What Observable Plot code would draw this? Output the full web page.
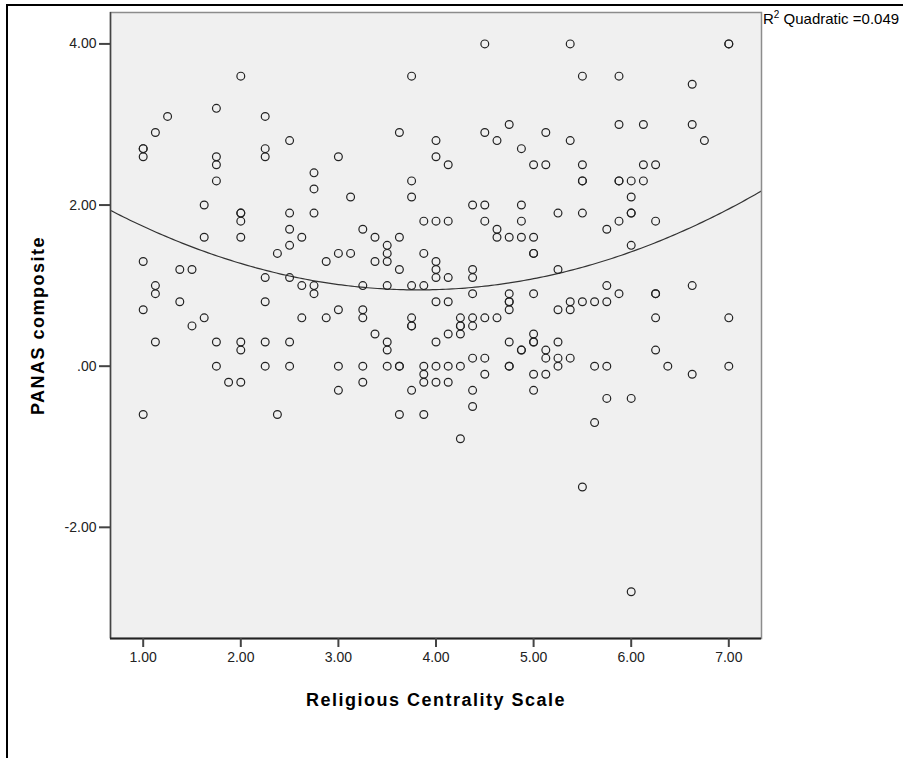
<!DOCTYPE html>
<html>
<head>
<meta charset="utf-8">
<script src="https://cdn.jsdelivr.net/npm/d3@7"></script>
<script src="https://cdn.jsdelivr.net/npm/@observablehq/plot@0.6"></script>
<style>
  body { margin: 0; background: #fff; width: 903px; height: 758px; position: relative; overflow: hidden;
         font-family: "Liberation Sans", Arial, sans-serif; }
  #border { position: absolute; left: 6px; top: 4px; width: 920px; height: 800px;
            border-top: 2px solid #000; border-left: 2px solid #000; }
  #chart { position: absolute; left: 0; top: 0; }
  #r2 { position: absolute; left: 763px; top: 10px; font-size: 15px; color: #000; white-space: nowrap; }
  #r2 sup { font-size: 10px; vertical-align: 6px; line-height: 0; }
  g[aria-label="x-axis label"] text, g[aria-label="y-axis label"] text { letter-spacing: 1.5px; }
</style>
</head>
<body>
<div id="border"></div>
<div id="chart"></div>
<div id="r2">R<sup>2</sup> Quadratic =0.049</div>
<script>
// ---- data (Religious Centrality Scale vs PANAS composite) ----
const religiousCentrality = [
  1, 1, 1, 1, 1, 1,
  1.125, 1.125, 1.125, 1.125,
  1.25,
  1.375, 1.375,
  1.5, 1.5,
  1.625, 1.625, 1.625,
  1.75, 1.75, 1.75, 1.75, 1.75, 1.75,
  1.875,
  2, 2, 2, 2, 2, 2, 2, 2,
  2.25, 2.25, 2.25, 2.25, 2.25, 2.25, 2.25,
  2.375, 2.375,
  2.5, 2.5, 2.5, 2.5, 2.5, 2.5, 2.5,
  2.625, 2.625, 2.625,
  2.75, 2.75, 2.75, 2.75, 2.75,
  2.875, 2.875,
  3, 3, 3, 3, 3,
  3.125, 3.125,
  3.25, 3.25, 3.25, 3.25, 3.25, 3.25,
  3.375, 3.375, 3.375,
  3.5, 3.5, 3.5, 3.5, 3.5, 3.5, 3.5,
  3.625, 3.625, 3.625, 3.625, 3.625, 3.625,
  3.75, 3.75, 3.75, 3.75, 3.75, 3.75, 3.75, 3.75,
  3.875, 3.875, 3.875, 3.875, 3.875, 3.875, 3.875,
  4, 4, 4, 4, 4, 4, 4, 4, 4, 4,
  4.125, 4.125, 4.125, 4.125, 4.125, 4.125, 4.125,
  4.25, 4.25, 4.25, 4.25, 4.25, 4.25,
  4.375, 4.375, 4.375, 4.375, 4.375, 4.375, 4.375, 4.375, 4.375,
  4.5, 4.5, 4.5, 4.5, 4.5, 4.5, 4.5,
  4.625, 4.625, 4.625, 4.625,
  4.75, 4.75, 4.75, 4.75, 4.75, 4.75, 4.75, 4.75, 4.75,
  4.875, 4.875, 4.875, 4.875, 4.875, 4.875,
  5, 5, 5, 5, 5, 5, 5, 5, 5, 5,
  5.125, 5.125, 5.125, 5.125, 5.125,
  5.25, 5.25, 5.25, 5.25, 5.25, 5.25,
  5.375, 5.375, 5.375, 5.375, 5.375,
  5.5, 5.5, 5.5, 5.5, 5.5, 5.5, 5.5,
  5.625, 5.625, 5.625,
  5.75, 5.75, 5.75, 5.75, 5.75,
  5.875, 5.875, 5.875, 5.875, 5.875, 5.875,
  6, 6, 6, 6, 6, 6, 6,
  6.125, 6.125, 6.125,
  6.25, 6.25, 6.25, 6.25, 6.25, 6.25,
  6.375,
  6.625, 6.625, 6.625, 6.625,
  6.75,
  7, 7, 7, 7
];
const panasComposite = [
  2.7, 2.6, 1.3, 0.7, -0.6, 2.7,
  2.9, 1.0, 0.9, 0.3,
  3.1,
  1.2, 0.8,
  1.2, 0.5,
  2.0, 1.6, 0.6,
  3.2, 2.6, 2.5, 2.3, 0.3, 0.0,
  -0.2,
  3.6, 1.9, 1.9, 1.8, 1.6, 0.3, 0.2, -0.2,
  3.1, 2.7, 2.6, 1.1, 0.8, 0.3, 0.0,
  1.4, -0.6,
  2.8, 1.9, 1.7, 1.5, 1.1, 0.3, 0.0,
  1.6, 1.0, 0.6,
  2.4, 2.2, 1.9, 1.0, 0.9,
  1.3, 0.6,
  2.6, 1.4, 0.7, 0.0, -0.3,
  2.1, 1.4,
  1.7, 1.0, 0.7, 0.6, 0.0, -0.2,
  1.6, 1.3, 0.4,
  1.5, 1.4, 1.3, 1.0, 0.3, 0.2, 0.0,
  2.9, 1.6, 1.2, 0.0, 0.0, -0.6,
  3.6, 2.3, 2.1, 1.0, 0.6, 0.5, 0.5, -0.3,
  1.8, 1.4, 1.0, 0.0, -0.1, -0.2, -0.6,
  2.8, 2.6, 1.8, 1.3, 1.2, 1.1, 0.8, 0.3, 0.0, -0.2,
  2.5, 1.8, 1.1, 0.8, 0.4, 0.0, -0.2,
  0.6, 0.5, 0.5, 0.4, 0.0, -0.9,
  2.0, 1.2, 1.1, 0.9, 0.6, 0.5, 0.1, -0.3, -0.5,
  4.0, 2.9, 2.0, 1.8, 0.6, 0.1, -0.1,
  2.8, 1.7, 1.6, 0.6,
  3.0, 1.6, 0.9, 0.8, 0.8, 0.7, 0.3, 0.0, 0.0,
  2.7, 2.0, 1.8, 1.6, 0.2, 0.2,
  2.5, 1.6, 1.4, 1.4, 0.9, 0.4, 0.3, 0.3, -0.1, -0.3,
  2.9, 2.5, 0.2, 0.1, -0.1,
  1.9, 1.2, 0.7, 0.3, 0.1, 0.0,
  4.0, 2.8, 0.8, 0.7, 0.1,
  3.6, 2.5, 2.3, 2.3, 1.9, 0.8, -1.5,
  0.8, 0.0, -0.7,
  1.7, 1.0, 0.8, 0.0, -0.4,
  3.6, 3.0, 2.3, 2.3, 1.8, 0.9,
  2.3, 2.1, 1.9, 1.9, 1.5, -0.4, -2.8,
  3.0, 2.5, 2.3,
  2.5, 1.8, 0.9, 0.9, 0.6, 0.2,
  0.0,
  3.5, 3.0, 1.0, -0.1,
  2.8,
  4.0, 4.0, 0.6, 0.0
];
const xTicks = [1, 2, 3, 4, 5, 6, 7];
const xTickLabels = ["1.00", "2.00", "3.00", "4.00", "5.00", "6.00", "7.00"];
const yTicks = [-2, 0, 2, 4];
const yTickLabels = ["-2.00", ".00", "2.00", "4.00"];
const xDomain = [0.665, 7.335];
const yDomain = [-3.38, 4.39];
const xTitle = "Religious Centrality Scale";
const yTitle = "PANAS composite";

// table built from the arrays
const points = religiousCentrality.map((x, i) => ({x, y: panasComposite[i]}));

// least-squares quadratic fit y = a + b x + c x^2 (as the chart's fit line)
function quadFit(xs, ys) {
  const S = [0, 0, 0, 0, 0], T = [0, 0, 0];
  xs.forEach((x, i) => {
    let p = 1;
    for (let k = 0; k < 5; k++) { S[k] += p; if (k < 3) T[k] += p * ys[i]; p *= x; }
  });
  const M = [[S[0], S[1], S[2], T[0]], [S[1], S[2], S[3], T[1]], [S[2], S[3], S[4], T[2]]];
  for (let i = 0; i < 3; i++) {
    for (let j = i + 1; j < 3; j++) {
      const f = M[j][i] / M[i][i];
      for (let k = i; k < 4; k++) M[j][k] -= f * M[i][k];
    }
  }
  const r = [0, 0, 0];
  for (let i = 2; i >= 0; i--) {
    let s = M[i][3];
    for (let k = i + 1; k < 3; k++) s -= M[i][k] * r[k];
    r[i] = s / M[i][i];
  }
  return r;
}
const [a, b, c] = quadFit(religiousCentrality, panasComposite);
const fitLine = d3.range(0, 201).map(i => {
  const x = xDomain[0] + (xDomain[1] - xDomain[0]) * i / 200;
  return {x, y: a + b * x + c * x * x};
});

const chart = Plot.plot({
  width: 903,
  height: 758,
  marginLeft: 110,
  marginRight: 142,
  marginTop: 12,
  marginBottom: 120,
  style: {background: "none", fontFamily: "'Liberation Sans', Arial, sans-serif", color: "#111"},
  x: {domain: xDomain, labelArrow: "none"},
  y: {domain: yDomain, labelArrow: "none"},
  marks: [
    Plot.frame({fill: "#f0f0f0", stroke: null}),
    Plot.line(fitLine, {x: "x", y: "y", stroke: "#333", strokeWidth: 1.2, clip: true}),
    Plot.dot(points, {x: "x", y: "y", r: 3.9, stroke: "#222", strokeWidth: 1.2, fill: "none"}),
    Plot.frame({stroke: "#8c8c8c", strokeWidth: 1.5}),
    Plot.ruleX([xDomain[0]], {stroke: "#444", strokeWidth: 1.5}),
    Plot.ruleY([yDomain[0]], {stroke: "#222", strokeWidth: 2}),
    Plot.axisX({ticks: xTicks, tickFormat: d => xTickLabels[xTicks.indexOf(d)], tickSize: 9, tickPadding: 5,
                fontSize: 14, stroke: "#444", strokeWidth: 2, fill: "#222", label: null}),
    Plot.axisY({ticks: yTicks, tickFormat: d => yTickLabels[yTicks.indexOf(d)], tickSize: 11, tickPadding: 3,
                fontSize: 14, stroke: "#444", strokeWidth: 2, fill: "#222", label: null}),
    Plot.axisX({ticks: [], label: xTitle, labelArrow: "none", labelAnchor: "center", labelOffset: 67,
                fontSize: 18, fontWeight: "bold", fill: "#000"}),
    Plot.axisY({ticks: [], label: yTitle, labelArrow: "none", labelAnchor: "center", labelOffset: 79,
                fontSize: 18, fontWeight: "bold", fill: "#000"})
  ]
});
document.getElementById("chart").appendChild(chart);
</script>
</body>
</html>
